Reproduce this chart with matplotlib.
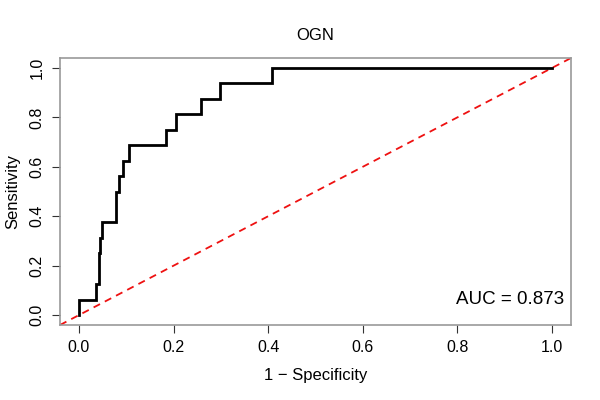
import matplotlib
matplotlib.use("Agg")
import matplotlib.pyplot as plt

plt.rcParams['font.family'] = ['Liberation Sans', 'DejaVu Sans']

title = "OGN"
xlabel = "1 \u2212 Specificity"
ylabel = "Sensitivity"
auc_text = "AUC = 0.873"
ticks = [0.0, 0.2, 0.4, 0.6, 0.8, 1.0]
tick_labels = ["0.0", "0.2", "0.4", "0.6", "0.8", "1.0"]

# ROC curve corner points (1 - specificity, sensitivity)
fpr = [0.0, 0.0, 0.036, 0.036, 0.042, 0.042, 0.045, 0.045, 0.049, 0.049,
       0.079, 0.079, 0.084, 0.084, 0.094, 0.094, 0.106, 0.106, 0.184, 0.184,
       0.205, 0.205, 0.258, 0.258, 0.298, 0.298, 0.407, 0.407, 1.0]
tpr = [0.0, 0.0625, 0.0625, 0.125, 0.125, 0.25, 0.25, 0.3125, 0.3125, 0.375,
       0.375, 0.5, 0.5, 0.5625, 0.5625, 0.625, 0.625, 0.6875, 0.6875, 0.75,
       0.75, 0.8125, 0.8125, 0.875, 0.875, 0.9375, 0.9375, 1.0, 1.0]

fig = plt.figure(figsize=(6, 4), dpi=100)
ax = fig.add_axes([0.1, 0.1875, 0.8517, 0.6675])

ax.plot(fpr, tpr, color='black', lw=2.0, solid_joinstyle='miter', zorder=3)
ax.axline((0, 0), (1, 1), color='#ee1111', lw=1.3, linestyle=(0, (4, 3)), zorder=2)

ax.set_xlim(-0.04, 1.04)
ax.set_ylim(-0.04, 1.04)
ax.set_xticks(ticks)
ax.set_xticklabels(tick_labels)
ax.set_yticks(ticks)
ax.set_yticklabels(tick_labels, rotation=90, va='center')
ax.tick_params(axis='both', labelsize=11.5, length=6, width=0.8, color='#333333', pad=5)

for s in ax.spines.values():
    s.set_color('#999999')
    s.set_linewidth(1.2)

ax.text(1.026, 0.065, auc_text, ha='right', va='center', fontsize=13.5)
ax.set_title(title, fontsize=12, pad=13)
ax.set_xlabel(xlabel, fontsize=12, labelpad=9)
ax.set_ylabel(ylabel, fontsize=12, labelpad=7)

fig.savefig("out.png", dpi=100)
